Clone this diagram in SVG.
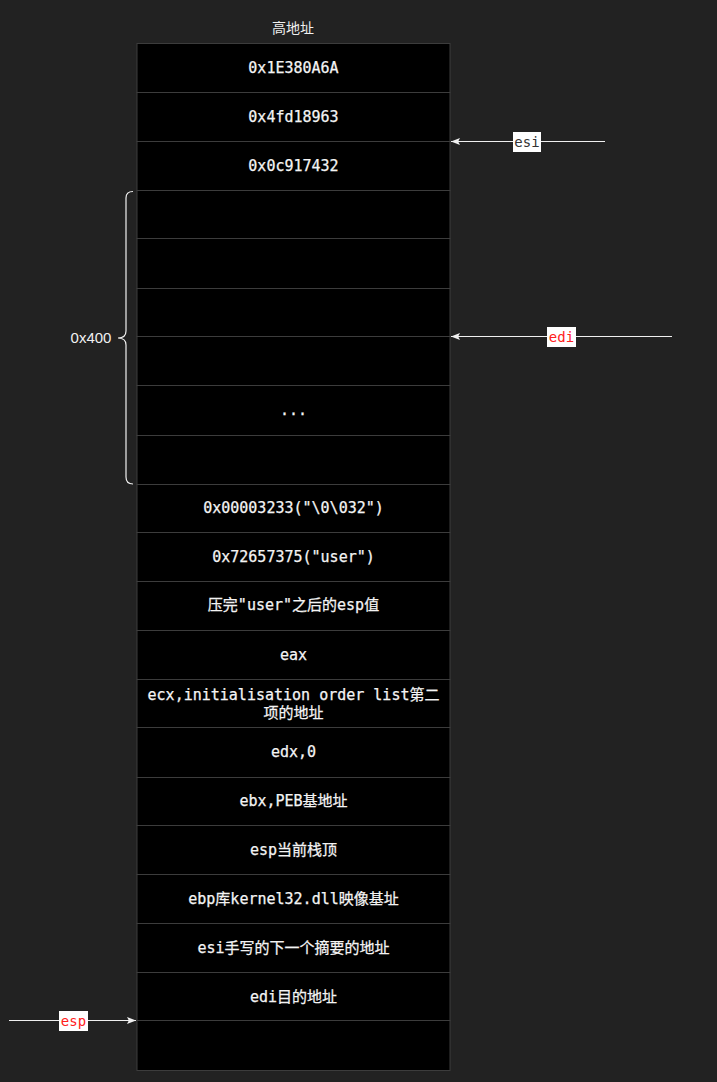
<svg xmlns="http://www.w3.org/2000/svg" width="717" height="1082" viewBox="0 0 717 1082">
<defs>
<style>
.cell{fill:#000;stroke:#3c3c3c;stroke-width:1}
.t{font-family:"DejaVu Sans Mono","Noto Sans CJK SC",monospace;font-size:15px;fill:#f4f4f4;text-anchor:middle;stroke:#f4f4f4;stroke-width:0.25}
.s{font-family:"Liberation Sans","Noto Sans CJK SC",sans-serif;font-size:14px;fill:#f0f0f0}
.lbl{font-family:"DejaVu Sans Mono",monospace;font-size:14px;text-anchor:middle}
.ln{stroke:#f0f0f0;stroke-width:1.2;fill:none}
</style>
<marker id="ah" viewBox="0 0 10 10" refX="10" refY="5" markerWidth="9" markerHeight="9" markerUnits="userSpaceOnUse" orient="auto">
<path d="M0,1 L10,5 L0,9 L2,5 Z" fill="#f0f0f0"/>
</marker>
</defs>
<rect width="717" height="1082" fill="#222222"/>
<text class="s" x="293" y="33" text-anchor="middle">高地址</text>
<g id="stack">
<g id="c0"><rect class="cell" x="137" y="43.5" width="313" height="49"/><text class="t" x="293.5" y="73">0x1E380A6A</text></g>
<g id="c1"><rect class="cell" x="137" y="92.5" width="313" height="49"/><text class="t" x="293.5" y="122">0x4fd18963</text></g>
<g id="c2"><rect class="cell" x="137" y="141.5" width="313" height="49"/><text class="t" x="293.5" y="171">0x0c917432</text></g>
<g id="c3"><rect class="cell" x="137" y="190.5" width="313" height="48"/></g>
<g id="c4"><rect class="cell" x="137" y="238.5" width="313" height="50"/></g>
<g id="c5"><rect class="cell" x="137" y="288.5" width="313" height="48"/></g>
<g id="c6"><rect class="cell" x="137" y="336.5" width="313" height="49"/></g>
<g id="c7"><rect class="cell" x="137" y="385.5" width="313" height="50"/><text class="t" x="293.5" y="415">...</text></g>
<g id="c8"><rect class="cell" x="137" y="435.5" width="313" height="49"/></g>
<g id="c9"><rect class="cell" x="137" y="484.5" width="313" height="48"/><text class="t" x="293.5" y="513">0x00003233("\0\032")</text></g>
<g id="c10"><rect class="cell" x="137" y="532.5" width="313" height="49"/><text class="t" x="293.5" y="562">0x72657375("user")</text></g>
<g id="c11"><rect class="cell" x="137" y="581.5" width="313" height="49"/><text class="t" x="293.5" y="610">压完"user"之后的esp值</text></g>
<g id="c12"><rect class="cell" x="137" y="630.5" width="313" height="49"/><text class="t" x="293.5" y="660">eax</text></g>
<g id="c13"><rect class="cell" x="137" y="679.5" width="313" height="48"/><text class="t" x="293.5" y="700">ecx,initialisation order list第二</text><text class="t" x="293.5" y="718">项的地址</text></g>
<g id="c14"><rect class="cell" x="137" y="727.5" width="313" height="50"/><text class="t" x="293.5" y="757">edx,0</text></g>
<g id="c15"><rect class="cell" x="137" y="777.5" width="313" height="48"/><text class="t" x="293.5" y="806">ebx,PEB基地址</text></g>
<g id="c16"><rect class="cell" x="137" y="825.5" width="313" height="49"/><text class="t" x="293.5" y="855">esp当前栈顶</text></g>
<g id="c17"><rect class="cell" x="137" y="874.5" width="313" height="49"/><text class="t" x="293.5" y="904">ebp库kernel32.dll映像基址</text></g>
<g id="c18"><rect class="cell" x="137" y="923.5" width="313" height="49"/><text class="t" x="293.5" y="953">esi手写的下一个摘要的地址</text></g>
<g id="c19"><rect class="cell" x="137" y="972.5" width="313" height="48"/><text class="t" x="293.5" y="1002">edi目的地址</text></g>
<g id="c20"><rect class="cell" x="137" y="1020.5" width="313" height="50"/></g>
</g>
<g id="brace">
<path class="ln" d="M133,191.5 Q126,191.5 126,198 L126,331 Q126,338 118,338 Q126,338 126,345 L126,477 Q126,484 133,484"/>
<text class="s" x="91" y="343" text-anchor="middle" style="font-size:15px">0x400</text>
</g>
<g id="connectors">
<g id="esi-arrow"><line class="ln" x1="605" y1="141.5" x2="451" y2="141.5" marker-end="url(#ah)"/><rect x="513" y="132" width="28" height="20" fill="#fff"/><text class="lbl" x="527" y="147" fill="#333">esi</text></g>
<g id="edi-arrow"><line class="ln" x1="672" y1="336.5" x2="451" y2="336.5" marker-end="url(#ah)"/><rect x="547" y="327" width="29" height="20" fill="#fff"/><text class="lbl" x="561.5" y="342" fill="#ff2020">edi</text></g>
<g id="esp-arrow"><line class="ln" x1="9" y1="1020.5" x2="136" y2="1020.5" marker-end="url(#ah)"/><rect x="59" y="1011" width="29" height="20" fill="#fff"/><text class="lbl" x="73.5" y="1026" fill="#ff2020">esp</text></g>
</g>
</svg>
